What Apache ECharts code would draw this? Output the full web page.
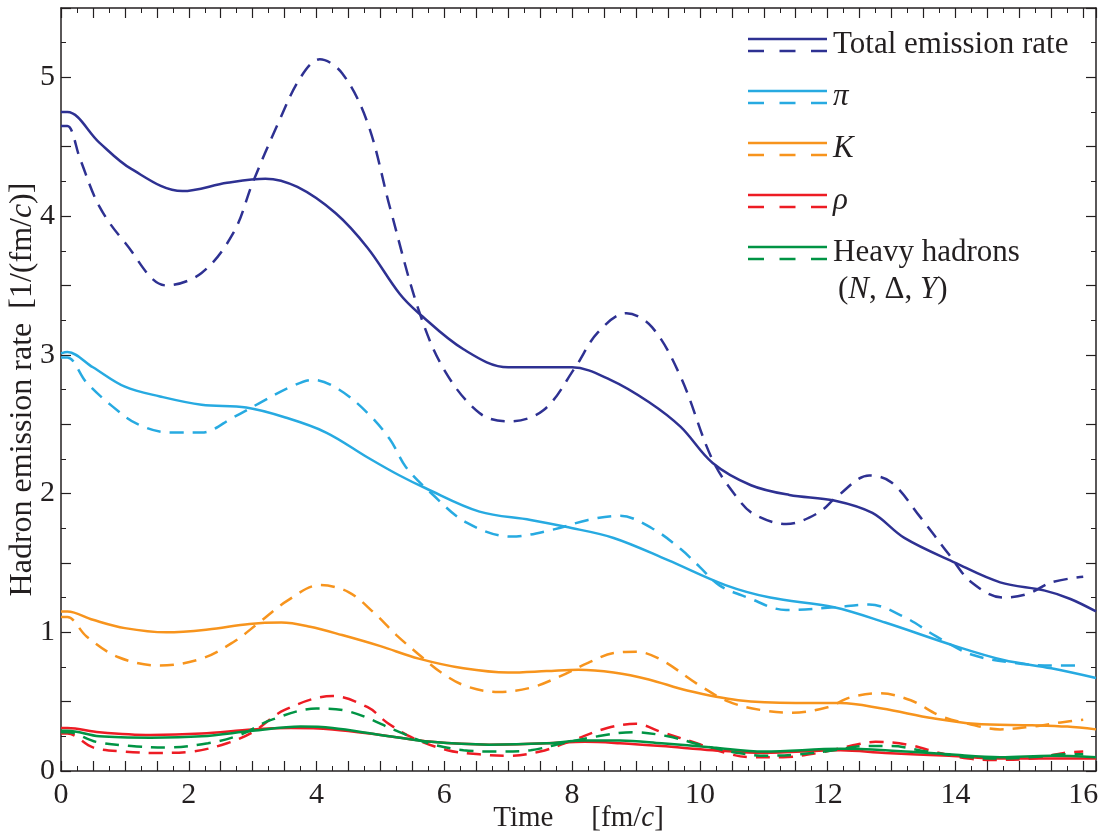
<!DOCTYPE html>
<html>
<head>
<meta charset="utf-8">
<script src="https://cdn.jsdelivr.net/npm/echarts@6/dist/echarts.min.js"></script>
<style>
  html, body { margin: 0; padding: 0; background: #fff; }
  #chart { width: 1104px; height: 832px; }
</style>
</head>
<body>
<div id="chart"></div>
<script>
// [time fm/c, rate]
const totalSolid = [[0,4.75],[0.1,4.75],[0.6,4.53],[1.1,4.34],[1.9,4.18],[2.6,4.24],[3.2,4.27],[3.7,4.21],[4.3,4.02],[4.8,3.77],[5.3,3.44],[5.6,3.30],[6.3,3.04],[7.0,2.91],[8.0,2.91],[8.6,2.82],[9.2,2.66],[9.7,2.48],[10.2,2.22],[10.8,2.06],[11.4,1.99],[12.1,1.95],[12.7,1.86],[13.2,1.68],[14.0,1.50],[14.7,1.36],[15.4,1.30],[15.8,1.24],[16.2,1.15]]
const totalDashed = [[0,4.65],[0.1,4.65],[0.3,4.41],[0.6,4.07],[1.0,3.81],[1.65,3.50],[2.2,3.59],[2.7,3.88],[3.0,4.24],[3.4,4.67],[3.75,5.0],[4.05,5.13],[4.4,5.03],[4.8,4.67],[5.15,4.06],[5.6,3.32],[6.0,2.89],[6.55,2.58],[7.0,2.52],[7.55,2.60],[8.05,2.91],[8.4,3.16],[8.85,3.30],[9.25,3.20],[9.7,2.84],[10.2,2.24],[10.6,1.96],[10.85,1.85],[11.35,1.78],[11.85,1.86],[12.15,1.98],[12.65,2.13],[13.0,2.08],[13.45,1.83],[13.9,1.56],[14.25,1.36],[14.75,1.25],[15.15,1.28],[15.5,1.36],[16.0,1.40]]
const piSolid = [[0,3.01],[0.1,3.02],[0.5,2.91],[1.0,2.77],[1.55,2.70],[2.2,2.64],[2.9,2.62],[3.5,2.55],[4.15,2.44],[4.8,2.26],[5.3,2.13],[5.7,2.04],[6.55,1.87],[7.35,1.81],[7.9,1.76],[8.65,1.68],[9.5,1.52],[10.4,1.34],[11.1,1.25],[12.1,1.18],[12.9,1.07],[14.0,0.90],[14.75,0.80],[15.5,0.74],[16.2,0.67]]
const piDashed = [[0,2.98],[0.1,2.98],[0.4,2.80],[0.8,2.63],[1.2,2.50],[1.7,2.44],[2.2,2.44],[2.7,2.55],[3.1,2.65],[3.6,2.77],[3.95,2.82],[4.35,2.75],[4.8,2.58],[5.15,2.39],[5.4,2.19],[5.8,2.0],[6.35,1.79],[7.05,1.69],[7.7,1.74],[8.25,1.81],[8.75,1.84],[9.25,1.75],[9.7,1.60],[10.0,1.47],[10.3,1.34],[10.75,1.25],[11.35,1.16],[12.1,1.18],[12.65,1.20],[13.2,1.11],[13.7,0.97],[14.25,0.84],[14.9,0.78],[15.5,0.76],[16.0,0.76]]
const kSolid = [[0,1.15],[0.1,1.15],[0.5,1.09],[1.0,1.03],[1.65,1.00],[2.3,1.02],[2.95,1.06],[3.45,1.07],[3.9,1.04],[4.4,0.98],[5.0,0.90],[5.6,0.81],[6.3,0.74],[7.0,0.71],[7.6,0.72],[8.1,0.73],[8.65,0.71],[9.2,0.66],[9.8,0.58],[10.6,0.51],[11.5,0.49],[12.2,0.49],[12.85,0.45],[13.65,0.38],[14.3,0.34],[15.2,0.33],[15.75,0.32],[16.2,0.30]]
const kDashed = [[0,1.11],[0.1,1.11],[0.4,0.97],[0.9,0.82],[1.55,0.76],[2.2,0.81],[2.7,0.93],[3.1,1.07],[3.55,1.23],[4.05,1.34],[4.5,1.29],[4.9,1.14],[5.25,0.98],[5.6,0.84],[5.95,0.71],[6.35,0.61],[6.85,0.57],[7.35,0.60],[7.8,0.68],[8.25,0.78],[8.65,0.85],[9.0,0.86],[9.4,0.80],[9.95,0.63],[10.45,0.50],[10.95,0.44],[11.45,0.42],[12.0,0.46],[12.35,0.53],[12.8,0.56],[13.3,0.51],[13.75,0.40],[14.2,0.34],[14.7,0.30],[15.2,0.32],[15.65,0.35],[16.0,0.37]]
const rhoSolid = [[0,0.31],[0.1,0.31],[0.6,0.28],[1.4,0.26],[2.2,0.27],[3.0,0.30],[3.6,0.31],[4.25,0.30],[5.0,0.26],[5.8,0.21],[6.7,0.19],[7.6,0.20],[8.2,0.21],[8.75,0.20],[9.4,0.18],[10.2,0.15],[11.0,0.13],[12.2,0.15],[12.9,0.13],[13.9,0.11],[14.7,0.09],[15.5,0.09],[16.2,0.09]]
const rhoDashed = [[0,0.27],[0.1,0.27],[0.5,0.17],[1.0,0.14],[1.5,0.13],[2.05,0.14],[2.6,0.20],[3.0,0.28],[3.5,0.44],[4.25,0.54],[4.8,0.46],[5.1,0.35],[5.5,0.24],[6.05,0.15],[6.55,0.12],[7.0,0.11],[7.5,0.14],[8.0,0.22],[8.55,0.31],[9.0,0.34],[9.4,0.28],[9.95,0.20],[10.4,0.13],[10.8,0.10],[11.3,0.10],[11.85,0.13],[12.35,0.18],[12.75,0.21],[13.25,0.19],[13.75,0.13],[14.2,0.09],[14.6,0.08],[15.2,0.09],[15.7,0.13],[16.0,0.14]]
const heavySolid = [[0,0.29],[0.1,0.29],[0.6,0.25],[1.4,0.24],[2.2,0.25],[3.0,0.29],[3.75,0.32],[4.25,0.31],[5.0,0.26],[5.8,0.21],[6.7,0.19],[7.6,0.20],[8.2,0.22],[8.75,0.22],[9.4,0.20],[10.2,0.17],[11.0,0.14],[12.2,0.16],[12.9,0.15],[13.9,0.12],[14.7,0.10],[15.5,0.11],[16.2,0.10]]
const heavyDashed = [[0,0.28],[0.1,0.28],[0.55,0.21],[1.1,0.18],[1.65,0.17],[2.3,0.20],[2.8,0.26],[3.3,0.37],[4.0,0.45],[4.5,0.43],[5.3,0.28],[5.75,0.20],[6.3,0.15],[6.8,0.14],[7.35,0.15],[7.85,0.20],[8.4,0.25],[8.95,0.28],[9.5,0.25],[10.0,0.19],[10.6,0.13],[11.05,0.11],[11.55,0.12],[12.1,0.15],[12.6,0.18],[13.0,0.18],[13.55,0.14],[14.2,0.10],[14.7,0.09],[15.2,0.10],[15.75,0.12],[16.0,0.12]]

const xMax = 16.2
const yMax = 5.5

const serif = '"Liberation Serif", "DejaVu Serif", serif'
const ink = '#231f20'
const colors = {
  total: '#2e3192',
  pi: '#27aae1',
  k: '#f7941d',
  rho: '#ed1c24',
  heavy: '#009444'
}

function curve (name, data, color, dashed) {
  return {
    name: name,
    type: 'line',
    data: data,
    smooth: 0.35,
    symbol: 'none',
    silent: true,
    animation: false,
    lineStyle: { color: color, width: 2.5, type: dashed ? [14, 9] : 'solid' }
  }
}

function xAxisOf (pos) {
  return {
    type: 'value',
    position: pos,
    min: 0,
    max: xMax,
    interval: 0.5,
    axisLine: { onZero: false, lineStyle: { color: ink, width: 1.5 } },
    axisTick: { inside: true, length: 10, lineStyle: { color: ink, width: 1.2 } },
    minorTick: { show: true, splitNumber: 2, length: 5, lineStyle: { color: ink, width: 1 } },
    splitLine: { show: false },
    axisLabel: {
      show: pos === 'bottom',
      margin: 9,
      fontFamily: serif,
      fontSize: 30,
      color: ink,
      formatter: v => (Math.abs(v % 2) < 1e-9 ? String(v) : '')
    }
  }
}

function yAxisOf (pos) {
  return {
    type: 'value',
    position: pos,
    min: 0,
    max: yMax,
    interval: 0.5,
    axisLine: { onZero: false, lineStyle: { color: ink, width: 1.5 } },
    axisTick: { inside: true, length: 10, lineStyle: { color: ink, width: 1.2 } },
    minorTick: { show: true, splitNumber: 2, length: 5, lineStyle: { color: ink, width: 1 } },
    splitLine: { show: false },
    axisLabel: {
      show: pos === 'left',
      margin: 6,
      fontFamily: serif,
      fontSize: 30,
      color: ink,
      formatter: v => (Math.abs(v % 1) < 1e-9 ? String(v) : '')
    }
  }
}

const xMain = xAxisOf('bottom')
xMain.name = 'Time{g| }[fm/{i|c}]'
xMain.nameLocation = 'middle'
xMain.nameGap = 33
xMain.nameMoveOverlap = false
xMain.nameTextStyle = {
  fontFamily: serif, fontSize: 29, color: ink,
  rich: {
    i: { fontFamily: serif, fontSize: 29, fontStyle: 'italic', color: ink },
    g: { width: 38 }
  }
}

const yMain = yAxisOf('left')
yMain.name = 'Hadron emission rate{g| }[1/(fm/{i|c})]'
yMain.nameLocation = 'middle'
yMain.nameGap = 22
yMain.nameMoveOverlap = false
yMain.nameTextStyle = {
  fontFamily: serif, fontSize: 32, color: ink,
  rich: {
    i: { fontFamily: serif, fontSize: 32, fontStyle: 'italic', color: ink },
    g: { width: 14 }
  }
}

// legend: solid over dashed, drawn by hand like the original
const legendItems = [
  { text: 'Total emission rate', color: colors.total, y: 45 },
  { text: '{i|π}', color: colors.pi, y: 97 },
  { text: '{i|K}', color: colors.k, y: 149 },
  { text: '{i|ρ}', color: colors.rho, y: 201 },
  { text: 'Heavy hadrons', color: colors.heavy, y: 253 }
]
const legendRich = { i: { fontFamily: serif, fontSize: 31, fontStyle: 'italic', fill: ink } }
const graphics = []
legendItems.forEach(it => {
  graphics.push({
    type: 'line', silent: true,
    shape: { x1: 748, y1: it.y - 6, x2: 827, y2: it.y - 6 },
    style: { stroke: it.color, lineWidth: 2.5 }
  })
  graphics.push({
    type: 'line', silent: true,
    shape: { x1: 748, y1: it.y + 6, x2: 827, y2: it.y + 6 },
    style: { stroke: it.color, lineWidth: 2.5, lineDash: [16, 15.5] }
  })
  graphics.push({
    type: 'text', silent: true, x: 833, y: it.y,
    style: { text: it.text, fontFamily: serif, fontSize: 31, fill: ink, verticalAlign: 'middle', rich: legendRich }
  })
})
graphics.push({
  type: 'text', silent: true, x: 838, y: 290,
  style: { text: '({i|N}, Δ, {i|Y})', fontFamily: serif, fontSize: 31, fill: ink, verticalAlign: 'middle', rich: legendRich }
})

const option = {
  animation: false,
  backgroundColor: '#fff',
  grid: { left: 61, right: 8, top: 8, bottom: 61, outerBoundsMode: 'none' },
  xAxis: [xMain, xAxisOf('top')],
  yAxis: [yMain, yAxisOf('right')],
  graphic: graphics,
  series: [
    curve('Total', totalSolid, colors.total, false),
    curve('Total dashed', totalDashed, colors.total, true),
    curve('pi', piSolid, colors.pi, false),
    curve('pi dashed', piDashed, colors.pi, true),
    curve('K', kSolid, colors.k, false),
    curve('K dashed', kDashed, colors.k, true),
    curve('rho', rhoSolid, colors.rho, false),
    curve('rho dashed', rhoDashed, colors.rho, true),
    curve('heavy', heavySolid, colors.heavy, false),
    curve('heavy dashed', heavyDashed, colors.heavy, true)
  ]
}

const chart = echarts.init(document.getElementById('chart'))
chart.setOption(option)
window.addEventListener('resize', () => chart.resize())
</script>
</body>
</html>
